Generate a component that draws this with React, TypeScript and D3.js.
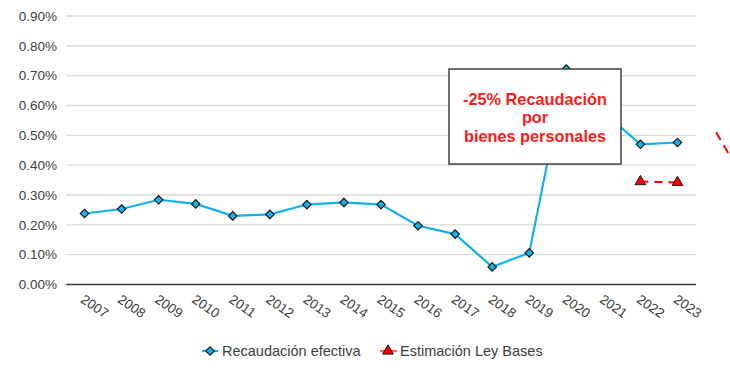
import React, { useEffect, useRef } from "react";
import * as d3 from "d3";

const years = ["2007", "2008", "2009", "2010", "2011", "2012", "2013", "2014", "2015", "2016", "2017", "2018", "2019", "2020", "2021", "2022", "2023"];
const recaudacion = [0.238, 0.253, 0.284, 0.27, 0.23, 0.235, 0.268, 0.275, 0.268, 0.197, 0.169, 0.059, 0.106, 0.722, 0.578, 0.47, 0.476];
const estimacionYears = ["2022", "2023"];
const estimacion = [0.345, 0.342];
const yTicks = [0, 0.1, 0.2, 0.3, 0.4, 0.5, 0.6, 0.7, 0.8, 0.9];
const boxLines = ["-25% Recaudación", "por", "bienes personales"];
const legendLabels = ["Recaudación efectiva", "Estimación Ley Bases"];

const W = 730;
const H = 375;
const FONT = "'Liberation Sans', Arial, sans-serif";

const App = () => {
  const svgRef = useRef(null);

  useEffect(() => {
    const svg = d3.select(svgRef.current);
    svg.selectAll("*").remove();

    const left = 66, right = 696, top = 16, bottom = 284.5;

    const x = d3.scaleBand().domain(years).range([left, right]);
    const cx = (d) => x(d) + x.bandwidth() / 2;
    const y = d3.scaleLinear().domain([0, 0.9]).range([bottom, top]);

    // gridlines
    svg.append("g")
      .selectAll("line")
      .data(yTicks.filter((t) => t > 0))
      .enter()
      .append("line")
      .attr("x1", left)
      .attr("x2", right)
      .attr("y1", (d) => y(d))
      .attr("y2", (d) => y(d))
      .attr("stroke", "#d9d9d9")
      .attr("stroke-width", 1.3);

    // y labels
    svg.append("g")
      .selectAll("text")
      .data(yTicks)
      .enter()
      .append("text")
      .attr("x", 57)
      .attr("y", (d) => y(d))
      .attr("dy", "0.35em")
      .attr("text-anchor", "end")
      .attr("font-family", FONT)
      .attr("font-size", 13.5)
      .attr("fill", "#404040")
      .text((d) => d.toFixed(2) + "%");

    // baseline
    svg.append("line")
      .attr("x1", left)
      .attr("x2", right)
      .attr("y1", y(0))
      .attr("y2", y(0))
      .attr("stroke", "#3a3a3a")
      .attr("stroke-width", 1.5);

    // x labels rotated
    svg.append("g")
      .selectAll("text")
      .data(years)
      .enter()
      .append("text")
      .attr("transform", (d) => `translate(${cx(d) - 2},${bottom + 13}) rotate(35)`)
      .attr("dy", "0.35em")
      .attr("font-family", FONT)
      .attr("font-size", 13.5)
      .attr("fill", "#404040")
      .text((d) => d);

    // main series
    const line = d3.line().x((d, i) => cx(years[i])).y((d) => y(d));
    svg.append("path")
      .datum(recaudacion)
      .attr("d", line)
      .attr("fill", "none")
      .attr("stroke", "#12b0ee")
      .attr("stroke-width", 2.2);

    const diamond = d3.symbol().type(d3.symbolSquare).size(36);
    svg.append("g")
      .selectAll("path")
      .data(recaudacion)
      .enter()
      .append("path")
      .attr("d", diamond)
      .attr("transform", (d, i) => `translate(${cx(years[i])},${y(d)}) rotate(45)`)
      .attr("fill", "#12b0ee")
      .attr("stroke", "#1a1a1a")
      .attr("stroke-width", 1.2);

    // estimation series
    const eLine = d3.line().x((d, i) => cx(estimacionYears[i])).y((d) => y(d));
    svg.append("path")
      .datum(estimacion)
      .attr("d", eLine)
      .attr("fill", "none")
      .attr("stroke", "#ff0000")
      .attr("stroke-width", 2)
      .attr("stroke-dasharray", "8,6");

    const tri = d3.symbol().type(d3.symbolTriangle).size(50);
    svg.append("g")
      .selectAll("path")
      .data(estimacion)
      .enter()
      .append("path")
      .attr("d", tri)
      .attr("transform", (d, i) => `translate(${cx(estimacionYears[i])},${y(d)})`)
      .attr("fill", "#ff0000")
      .attr("stroke", "#1a1a1a")
      .attr("stroke-width", 1);

    // clipped red dashed stroke at right edge
    svg.append("line")
      .attr("x1", right + 20)
      .attr("x2", right + 36)
      .attr("y1", y(0.51))
      .attr("y2", y(0.42))
      .attr("stroke", "#ff0000")
      .attr("stroke-width", 2)
      .attr("stroke-dasharray", "9,6");

    // annotation box
    const bx = 449, by = 69, bw = 172, bh = 95;
    svg.append("rect")
      .attr("x", bx)
      .attr("y", by)
      .attr("width", bw)
      .attr("height", bh)
      .attr("fill", "#fff")
      .attr("stroke", "#404040")
      .attr("stroke-width", 1.5);
    svg.append("g")
      .selectAll("text")
      .data(boxLines)
      .enter()
      .append("text")
      .attr("x", bx + bw / 2)
      .attr("y", (d, i) => 99 + i * 18.5)
      .attr("dy", "0.35em")
      .attr("text-anchor", "middle")
      .attr("font-family", FONT)
      .attr("font-weight", "bold")
      .attr("font-size", 16.3)
      .attr("fill", "#ff1a1a")
      .text((d) => d);

    // legend
    const ly = 351;
    const lg = svg.append("g");
    lg.append("line")
      .attr("x1", 202).attr("x2", 218).attr("y1", ly).attr("y2", ly)
      .attr("stroke", "#12b0ee").attr("stroke-width", 2.2);
    lg.append("path")
      .attr("d", diamond)
      .attr("transform", `translate(210,${ly}) rotate(45)`)
      .attr("fill", "#12b0ee").attr("stroke", "#1a1a1a").attr("stroke-width", 1.2);
    lg.append("text")
      .attr("x", 222).attr("y", ly).attr("dy", "0.35em")
      .attr("font-family", FONT).attr("font-size", 14.5).attr("fill", "#404040")
      .text(legendLabels[0]);
    lg.append("line")
      .attr("x1", 380).attr("x2", 397).attr("y1", ly).attr("y2", ly)
      .attr("stroke", "#ff6a3a").attr("stroke-width", 2);
    lg.append("path")
      .attr("d", tri)
      .attr("transform", `translate(388,${ly})`)
      .attr("fill", "#ff0000").attr("stroke", "#1a1a1a").attr("stroke-width", 1);
    lg.append("text")
      .attr("x", 400).attr("y", ly).attr("dy", "0.35em")
      .attr("font-family", FONT).attr("font-size", 14.5).attr("fill", "#404040")
      .text(legendLabels[1]);
  }, []);

  return (
    <div style={{ position: "absolute", left: 0, top: 0, width: W, height: H, background: "#fff" }}>
      <svg ref={svgRef} width={W} height={H}></svg>
    </div>
  );
};

export default App;
